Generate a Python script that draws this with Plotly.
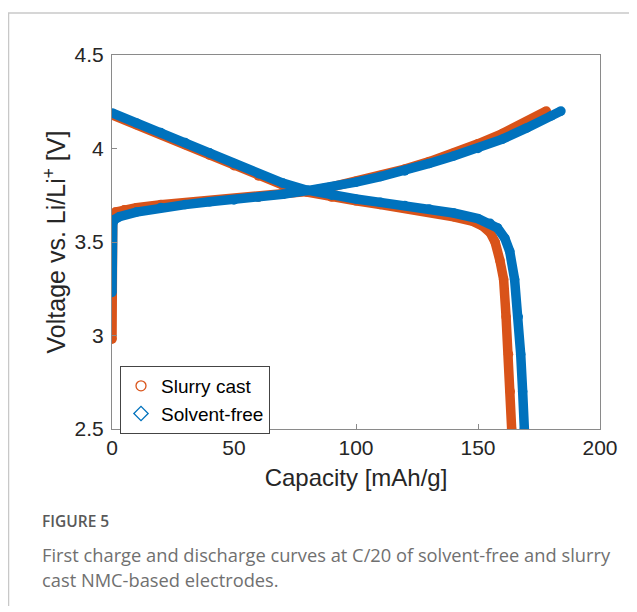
import plotly.graph_objects as go

# ---- data ----
slurry_charge_cap = [0, 0, 0, 0.3, 1.5, 5, 10, 20, 30, 40, 50, 60, 70, 80, 90, 100, 110, 120, 130, 140, 150, 160, 170, 178]
slurry_charge_v = [2.98, 3.3, 3.55, 3.64, 3.66, 3.672, 3.683, 3.70, 3.71, 3.72, 3.73, 3.74, 3.755, 3.77, 3.795, 3.825, 3.855, 3.89, 3.93, 3.975, 4.025, 4.08, 4.14, 4.2]

slurry_dis_cap = [0, 10, 20, 30, 40, 50, 60, 70, 80, 90, 100, 110, 120, 130, 140, 148, 152, 155, 157, 159, 160.5, 161.5, 162.5, 163.2, 163.8]
slurry_dis_v = [4.18, 4.127, 4.075, 4.02, 3.965, 3.908, 3.853, 3.805, 3.767, 3.74, 3.72, 3.70, 3.68, 3.66, 3.635, 3.61, 3.585, 3.55, 3.5, 3.4, 3.3, 3.1, 2.9, 2.7, 2.5]

sf_charge_cap = [0, 0, 0, 0.3, 1, 3, 10, 20, 30, 40, 50, 60, 70, 80, 90, 100, 110, 120, 130, 140, 150, 160, 170, 180, 184]
sf_charge_v = [3.23, 3.4, 3.55, 3.6, 3.62, 3.635, 3.66, 3.685, 3.70, 3.715, 3.725, 3.74, 3.755, 3.775, 3.795, 3.82, 3.85, 3.88, 3.92, 3.96, 4.0, 4.05, 4.11, 4.175, 4.2]

sf_dis_cap = [0, 10, 20, 30, 40, 50, 60, 70, 80, 90, 100, 110, 120, 130, 140, 150, 155, 158, 161, 163, 165, 166.5, 167.5, 168.3, 169]
sf_dis_v = [4.19, 4.137, 4.085, 4.032, 3.977, 3.92, 3.865, 3.815, 3.777, 3.75, 3.73, 3.712, 3.695, 3.677, 3.655, 3.625, 3.60, 3.575, 3.52, 3.45, 3.3, 3.1, 2.9, 2.7, 2.5]

x_ticks = [0, 50, 100, 150, 200]
y_ticks = [2.5, 3, 3.5, 4, 4.5]
y_tick_labels = ["2.5", "3", "3.5", "4", "4.5"]

series_names = ["Slurry cast", "Solvent-free"]
ORANGE = "#D95319"
BLUE = "#0072BD"

fig = go.Figure()

def band(x, y, color):
    fig.add_trace(go.Scatter(
        x=x, y=y, mode="lines+markers", showlegend=False, hoverinfo="skip",
        line=dict(color=color, width=9.5),
        marker=dict(symbol="circle", size=9.5, color=color),
    ))

band(slurry_charge_cap, slurry_charge_v, ORANGE)
band(slurry_dis_cap, slurry_dis_v, ORANGE)
band(sf_charge_cap, sf_charge_v, BLUE)
band(sf_dis_cap, sf_dis_v, BLUE)

# legend entries
fig.add_trace(go.Scatter(x=[None], y=[None], mode="markers", name=series_names[0],
                         marker=dict(symbol="circle-open", size=10, color=ORANGE, line=dict(width=1.3))))
fig.add_trace(go.Scatter(x=[None], y=[None], mode="markers", name=series_names[1],
                         marker=dict(symbol="diamond-open", size=11, color=BLUE, line=dict(width=1.3))))

# page body has an 8px margin: work in page pixels, convert to figure pixels
OFF = 8
W, H = 637 - OFF, 612 - OFF
L, T, R, B = 112 - OFF, 55 - OFF, 600 - OFF, 429 - OFF
pw, ph = R - L, B - T

def px(xp):
    return (xp - OFF - L) / pw

def py(yp):
    return (B - (yp - OFF)) / ph

axis_common = dict(
    showgrid=False, zeroline=False, showline=True, mirror=True,
    linecolor="#8a8a8a", linewidth=1,
    ticks="inside", ticklen=5, tickcolor="#8a8a8a", tickwidth=1,
    tickfont=dict(family="Liberation Sans, Arial", size=21, color="#262626"),
)

fig.update_layout(
    width=W, height=H,
    margin=dict(l=L, r=W - R, t=T, b=H - B),
    paper_bgcolor="white", plot_bgcolor="white",
    xaxis=dict(range=[0, 200], tickvals=x_ticks,
               title=dict(text="Capacity [mAh/g]", standoff=10,
                          font=dict(family="Liberation Sans, Arial", size=24, color="#262626")),
               **axis_common),
    yaxis=dict(range=[2.5, 4.5], tickvals=y_ticks, ticktext=y_tick_labels,
               ticklabelstandoff=3,
               title=dict(text="Voltage vs. Li/Li<sup>+</sup> [V]", standoff=1,
                          font=dict(family="Liberation Sans, Arial", size=25, color="#262626")),
               **axis_common),
    legend=dict(x=px(120), y=py(366), xanchor="left", yanchor="top",
                bgcolor="white", bordercolor="#444444", borderwidth=1,
                font=dict(family="Liberation Sans, Arial", size=19, color="#000000"),
                tracegroupgap=0, itemwidth=30),
    showlegend=True,
)

# outer frame lines
fig.add_shape(type="line", xref="paper", yref="paper",
              x0=px(8), x1=px(645), y0=py(13), y1=py(13),
              line=dict(color="#c8c8c8", width=1.5))
fig.add_shape(type="line", xref="paper", yref="paper",
              x0=px(8.5), x1=px(8.5), y0=py(13), y1=py(606),
              line=dict(color="#c8c8c8", width=1.5))

# caption
fig.add_annotation(text="FIGURE 5", xref="paper", yref="paper", x=px(40), y=py(521),
                   xanchor="left", yanchor="middle", showarrow=False,
                   font=dict(family="Open Sans", size=15.5, color="#595959", weight=600))
fig.add_annotation(text="First charge and discharge curves at C/20 of solvent-free and slurry",
                   xref="paper", yref="paper", x=px(40), y=py(554),
                   xanchor="left", yanchor="middle", showarrow=False,
                   font=dict(family="Open Sans", size=18.3, color="#707070"))
fig.add_annotation(text="cast NMC-based electrodes.",
                   xref="paper", yref="paper", x=px(40), y=py(579),
                   xanchor="left", yanchor="middle", showarrow=False,
                   font=dict(family="Open Sans", size=18.3, color="#707070"))

fig.write_html("out.html")
